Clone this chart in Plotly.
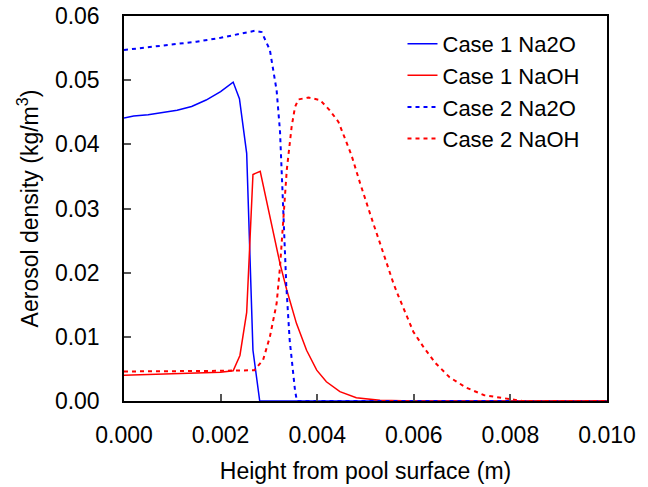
import plotly.graph_objects as go

# Case 1 Na2O (solid blue)
c1_na2o_x = [0.0, 0.0002, 0.0005, 0.0008, 0.0011, 0.0014, 0.0017, 0.0020, 0.00226,
             0.00239, 0.00254, 0.00267, 0.00281, 0.010]
c1_na2o_y = [0.0441, 0.0444, 0.0446, 0.0449, 0.0453, 0.0459, 0.0469, 0.0482, 0.0497,
             0.0471, 0.0386, 0.0079, 0.0, 0.0]

# Case 1 NaOH (solid red)
c1_naoh_x = [0.0, 0.001, 0.002, 0.00226, 0.0024, 0.00254, 0.00267, 0.00282, 0.00302,
             0.00323, 0.00337, 0.00357, 0.00378, 0.00399, 0.00419, 0.00447, 0.00481,
             0.0053, 0.006, 0.010]
c1_naoh_y = [0.0040, 0.0042, 0.0045, 0.0047, 0.0071, 0.0138, 0.0353, 0.0358, 0.0287,
             0.0214, 0.0173, 0.0121, 0.0079, 0.0048, 0.0030, 0.00145, 0.0005,
             0.0001, 0.0, 0.0]

# Case 2 Na2O (dotted blue)
c2_na2o_x = [0.0, 0.0005, 0.001, 0.0015, 0.002, 0.0025, 0.00271, 0.00285, 0.00302,
             0.00316, 0.00323, 0.00328, 0.00332, 0.00336, 0.00343, 0.00354, 0.00358, 0.010]
c2_na2o_y = [0.0547, 0.0551, 0.0555, 0.0560, 0.0566, 0.0573, 0.0577, 0.0575, 0.0547,
             0.0484, 0.0420, 0.0330, 0.0250, 0.0180, 0.0095, 0.0017, 0.0, 0.0]

# Case 2 NaOH (dotted red)
c2_naoh_x = [0.0, 0.001, 0.002, 0.0027, 0.00288, 0.00302, 0.00316, 0.00323, 0.0033,
             0.00337, 0.00347, 0.00354, 0.00361, 0.00382, 0.00406, 0.00426, 0.00444,
             0.00471, 0.00489, 0.00502, 0.00516, 0.0053, 0.00544, 0.00558, 0.00568,
             0.00584, 0.00599, 0.00621, 0.00645, 0.00674, 0.00708, 0.00746, 0.00785,
             0.00825, 0.010]
c2_naoh_y = [0.0046, 0.0046, 0.0047, 0.0048, 0.0064, 0.0100, 0.0152, 0.0209, 0.0287,
             0.0360, 0.0427, 0.0458, 0.0470, 0.0473, 0.0469, 0.0453, 0.0435,
             0.0383, 0.0339, 0.0308, 0.0277, 0.0246, 0.0214, 0.0183, 0.0164,
             0.0136, 0.0108, 0.0083, 0.0059, 0.0037, 0.0021, 0.0009, 0.0004,
             0.0, 0.0]

series_names = ["Case 1 Na2O", "Case 1 NaOH", "Case 2 Na2O", "Case 2 NaOH"]

x_ticks = [0.000, 0.002, 0.004, 0.006, 0.008, 0.010]
y_ticks = [0.00, 0.01, 0.02, 0.03, 0.04, 0.05, 0.06]

FONT = "Arial, Liberation Sans, sans-serif"
FS = 23

fig = go.Figure()
fig.add_trace(go.Scatter(x=c1_na2o_x, y=c1_na2o_y, mode="lines", name=series_names[0],
                         line=dict(color="#0000FF", width=1.5)))
fig.add_trace(go.Scatter(x=c1_naoh_x, y=c1_naoh_y, mode="lines", name=series_names[1],
                         line=dict(color="#FF0000", width=1.5)))
fig.add_trace(go.Scatter(x=c2_na2o_x, y=c2_na2o_y, mode="lines", name=series_names[2],
                         line=dict(color="#0000FF", width=2, dash="4px,4px")))
fig.add_trace(go.Scatter(x=c2_naoh_x, y=c2_naoh_y, mode="lines", name=series_names[3],
                         line=dict(color="#FF0000", width=2, dash="4px,4px")))

axis_common = dict(
    showgrid=False, zeroline=False, automargin=False, ticklabeloverflow="allow",
    showline=True, linecolor="black", linewidth=1.5, mirror=True,
    ticks="inside", ticklen=7, tickwidth=1.5, tickcolor="#555555",
    tickfont=dict(family=FONT, size=FS, color="black"),
)

fig.update_layout(
    width=648, height=487,
    margin=dict(l=124, r=41, t=16, b=86),
    paper_bgcolor="white", plot_bgcolor="white",
    font=dict(family=FONT, size=FS, color="black"),
    showlegend=True,
    legend=dict(x=0.5766, y=0.982, xanchor="left", yanchor="top",
                bgcolor="rgba(0,0,0,0)", borderwidth=0,
                font=dict(family=FONT, size=22, color="black"),
                tracegroupgap=0),
    xaxis=dict(axis_common, range=[0, 0.010], tickvals=x_ticks, tickformat=".3f",
               ticklabelstandoff=13,
               title=dict(text="Height from pool surface (m)", standoff=16,
                          font=dict(family=FONT, size=FS, color="black"))),
    yaxis=dict(axis_common, range=[0, 0.06], tickvals=y_ticks, tickformat=".2f",
               ticklabelstandoff=18,
               title=dict(text="Aerosol density (kg/m<sup>3</sup>)", standoff=10,
                          font=dict(family=FONT, size=FS, color="black"))),
)

fig.write_html("out.html", config={"displayModeBar": False},
               post_script="document.body.style.margin='0';")
